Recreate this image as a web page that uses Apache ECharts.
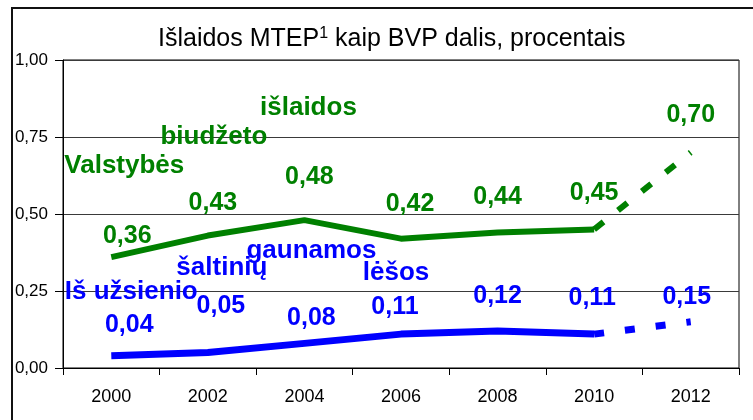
<!DOCTYPE html>
<html>
<head>
<meta charset="utf-8">
<script src="https://cdn.jsdelivr.net/npm/echarts@6/dist/echarts.min.js"></script>
<style>
    html, body { margin: 0; padding: 0; background: #fff; }
    #chart { width: 753px; height: 420px; }
</style>
</head>
<body>
<div id="chart"></div>
<script>
// duomenys
var years = ['2000', '2002', '2004', '2006', '2008', '2010', '2012'];
var yTicks = [0, 0.25, 0.5, 0.75, 1];
var budget = [0.36, 0.43, 0.48, 0.42, 0.44, 0.45, 0.70];
var foreign = [0.04, 0.05, 0.08, 0.11, 0.12, 0.11, 0.15];
var budgetWords = ['Valstybės', 'biudžeto', 'išlaidos', '', '', '', ''];
var foreignWords = ['Iš užsienio', 'šaltinių', 'gaunamos', 'lėšos', '', '', ''];
var lastActual = 5; // nuo 2010 iki 2012 - prognozė (punktyras)

// etikečių poslinkiai nuo taško
var budgetValShift = [[16, -21], [5, -32], [5, -43], [9, -35], [0, -35], [0, -36], [0, -37]];
var budgetWordShift = [[13, -91], [6, -99], [4, -112]];
var foreignValShift = [[18, -31], [13, -46], [7, -25], [-6, -27], [0, -35], [-2, -36], [-4, -25]];
var foreignWordShift = [[20, -64], [14, -85], [7, -93], [-5, -61]];

var GREEN = '#008000';
var BLUE = '#0000ff';
var FONT = 'Liberation Sans, Arial, sans-serif';

var appChart = {
    chart: null,
    init: function init() {
        this.chart = echarts.init(document.getElementById('chart'), null, { renderer: 'canvas' });
        this.chart.setOption(this.getOption());
    },
    fmt: function fmt(v) {
        return v.toFixed(2).replace('.', ',');
    },
    //ištisinė dalis
    solidPart: function solidPart(vals) {
        var out = [];
        for (var i = 0; i < vals.length; i++) {
            out.push(i <= lastActual ? vals[i] : '-');
        }
        return out;
    },
    //punktyrinė dalis
    dashPart: function dashPart(vals) {
        var out = [];
        for (var i = 0; i < vals.length; i++) {
            out.push(i >= lastActual ? vals[i] : '-');
        }
        return out;
    },
    lineSeries: function lineSeries(data, color, width, type) {
        return {
            type: 'line',
            data: data,
            symbol: 'none',
            silent: true,
            connectNulls: false,
            lineStyle: { color: color, width: width, type: type, cap: 'butt', join: 'round' },
            z: 2
        };
    },
    //nematoma serija etiketėms
    labelSeries: function labelSeries(vals, texts, shifts, color, size) {
        var that = this;
        var data = [];
        for (var i = 0; i < vals.length; i++) {
            var show = texts === null || (texts[i] && texts[i].length > 0);
            data.push({
                value: vals[i],
                label: {
                    show: !!show,
                    offset: shifts[i] || [0, 0],
                    formatter: texts === null ? that.fmt(vals[i]) : (texts[i] || '')
                }
            });
        }
        return {
            type: 'line',
            data: data,
            symbol: 'circle',
            symbolSize: 1,
            showSymbol: true,
            silent: true,
            itemStyle: { color: 'transparent' },
            lineStyle: { width: 0, opacity: 0 },
            label: {
                position: 'inside',
                color: color,
                fontFamily: FONT,
                fontWeight: 'bold',
                fontSize: size
            },
            z: 5
        };
    },
    getOption: function getOption() {
        var that = this;
        return {
            animation: false,
            backgroundColor: '#fff',
            title: {
                text: '{a|Išlaidos MTEP}{s|1}{a| kaip BVP dalis, procentais}',
                left: 153,
                top: 21,
                textStyle: {
                    fontWeight: 'normal',
                    rich: {
                        a: { fontFamily: FONT, fontSize: 25, fontWeight: 'normal', color: '#000', verticalAlign: 'bottom' },
                        s: { fontFamily: FONT, fontSize: 16, fontWeight: 'normal', color: '#000', verticalAlign: 'top', padding: [0, 0, 10, 0] }
                    }
                }
            },
            graphic: [{
                type: 'rect',
                shape: { x: 12, y: 8, width: 760, height: 440 },
                style: { fill: null, stroke: '#111', lineWidth: 2 },
                silent: true,
                z: 10
            }],
            grid: { left: 63, right: 14, top: 60, bottom: 52, show: true, borderColor: '#000', borderWidth: 1 },
            xAxis: {
                type: 'category',
                data: years,
                boundaryGap: true,
                axisLine: { lineStyle: { color: '#000', width: 1 } },
                axisTick: { show: true, interval: 0, length: 7, lineStyle: { color: '#000' } },
                axisLabel: { color: '#000', fontFamily: FONT, fontSize: 18, margin: 20 },
                splitLine: { show: false }
            },
            yAxis: {
                type: 'value',
                min: yTicks[0],
                max: yTicks[yTicks.length - 1],
                interval: yTicks[1] - yTicks[0],
                axisLine: { show: true, lineStyle: { color: '#000', width: 1 } },
                axisTick: { show: true, length: 8, lineStyle: { color: '#000' } },
                axisLabel: {
                    color: '#000', fontFamily: FONT, fontSize: 17, margin: 15,
                    formatter: function (v) { return that.fmt(v); }
                },
                splitLine: { show: true, lineStyle: { color: '#3a3a3a', width: 1 } }
            },
            series: [
                that.lineSeries(that.solidPart(budget), GREEN, 6, 'solid'),
                that.lineSeries(that.dashPart(budget), GREEN, 6, [12, 18.5]),
                that.lineSeries(that.solidPart(foreign), BLUE, 7, 'solid'),
                that.lineSeries(that.dashPart(foreign), BLUE, 7, [10, 21]),
                that.labelSeries(budget, null, budgetValShift, GREEN, 25),
                that.labelSeries(budget, budgetWords, budgetWordShift, GREEN, 26),
                that.labelSeries(foreign, null, foreignValShift, BLUE, 25),
                that.labelSeries(foreign, foreignWords, foreignWordShift, BLUE, 26)
            ]
        };
    }
};
window.onload = function () {
    appChart.init();
};
</script>
</body>
</html>
